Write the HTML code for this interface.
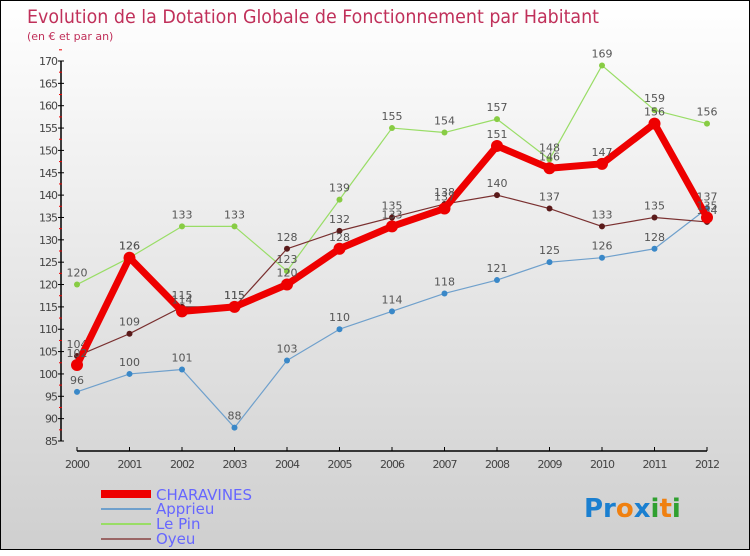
<!DOCTYPE html>
<html><head><meta charset="utf-8"><style>
body{margin:0;width:750px;height:550px;overflow:hidden}
#c{position:absolute;left:0;top:0;width:748px;height:548px;border:1px solid #000;background:linear-gradient(#fff,#cfcfcf)}
svg text{font-family:"DejaVu Sans","Liberation Sans",sans-serif}
</style></head><body>
<div id="c">
<svg id="s" width="750" height="550">
<text x="26" y="22" font-size="19" fill="#c0305a" textLength="572" lengthAdjust="spacingAndGlyphs">Evolution de la Dotation Globale de Fonctionnement par Habitant</text>
<text x="26" y="39" font-size="11" fill="#c0305a">(en € et par an)</text>
<g id="g"></g>
<g>
<rect x="100" y="489" width="50" height="8" fill="#e00"/>
<text x="155" y="499" font-size="15" fill="#66f">CHARAVINES</text>
<line x1="100" y1="508" x2="150" y2="508" stroke="#6fa0cc" stroke-width="2"/>
<text x="155" y="513" font-size="15" fill="#66f">Apprieu</text>
<line x1="100" y1="523" x2="150" y2="523" stroke="#99dd66" stroke-width="2"/>
<text x="155" y="528" font-size="15" fill="#66f">Le Pin</text>
<line x1="100" y1="538" x2="150" y2="538" stroke="#9a6666" stroke-width="2"/>
<text x="155" y="543" font-size="15" fill="#66f">Oyeu</text>
</g>
<text x="583" y="516" font-size="26" font-weight="bold"><tspan fill="#1a7fd0">Pr</tspan><tspan fill="#f08010">o</tspan><tspan fill="#1a7fd0">x</tspan><tspan fill="#30a030">i</tspan><tspan fill="#f08010">t</tspan><tspan fill="#30a030">i</tspan></text>
</svg></div>
<script>
const years=["2000","2001","2002","2003","2004","2005","2006","2007","2008","2009","2010","2011","2012"];
const charavines=[102,126,114,115,120,128,133,137,151,146,147,156,135];
const apprieu=[96,100,101,88,103,110,114,118,121,125,126,128,137];
const lepin=[120,126,133,133,123,139,155,154,157,148,169,159,156];
const oyeu=[104,109,115,115,128,132,135,138,140,137,133,135,134];
const yTicks=[85,90,95,100,105,110,115,120,125,130,135,140,145,150,155,160,165,170];
const NS="http://www.w3.org/2000/svg",g=document.getElementById('g');
const X=i=>76+i*52.5, Y=v=>60+(170-v)*(380/85);
function mk(t,a,name){const e=document.createElementNS(NS,t);for(const k in a)e.setAttribute(k,a[k]);


g.appendChild(e);return e;}
mk('line',{x1:60,y1:Y(170),x2:60,y2:Y(85),stroke:'#000','stroke-width':1.5},'y-axis');
yTicks.forEach(v=>{mk('line',{x1:57,y1:Y(v),x2:63,y2:Y(v),stroke:'#000'},'y-tick');
mk('line',{x1:58,y1:Y(v+2.5),x2:61,y2:Y(v+2.5),stroke:'#e00'},'y-minor-tick');
const t=mk('text',{x:56,y:Y(v)+4,'font-size':11,fill:'#444','text-anchor':'end','letter-spacing':'-1'},'y-tick-label');t.textContent=v;});
mk('line',{x1:76,y1:450,x2:706,y2:450,stroke:'#000','stroke-width':1.5},'x-axis');
years.forEach((y,i)=>{mk('line',{x1:X(i),y1:446,x2:X(i),y2:450,stroke:'#000'},'x-tick');
const t=mk('text',{x:X(i),y:467,'font-size':11,fill:'#444','text-anchor':'middle','letter-spacing':'-1'},'x-tick-label');t.textContent=y;});
function series(d,col,w,r,dot,name){
mk('polyline',{points:d.map((v,i)=>X(i)+','+Y(v)).join(' '),fill:'none',stroke:col,'stroke-width':w,'stroke-linejoin':'round'},name+'-line');
d.forEach((v,i)=>{mk('circle',{cx:X(i),cy:Y(v),r:r,fill:dot},name+'-point');
const t=mk('text',{x:X(i),y:Y(v)-8,'font-size':11,fill:'#555','text-anchor':'middle'},name+'-value-label');t.textContent=v;});}
series(lepin,'#99dd66',1.2,3,'#88cc44','le-pin');
series(apprieu,'#6fa0cc',1.2,3,'#3a88c8','apprieu');
series(oyeu,'#7a3030',1.2,3,'#5a1a1a','oyeu');
series(charavines,'#ee0000',7,6,'#ee0000','charavines');
</script>
</body></html>
